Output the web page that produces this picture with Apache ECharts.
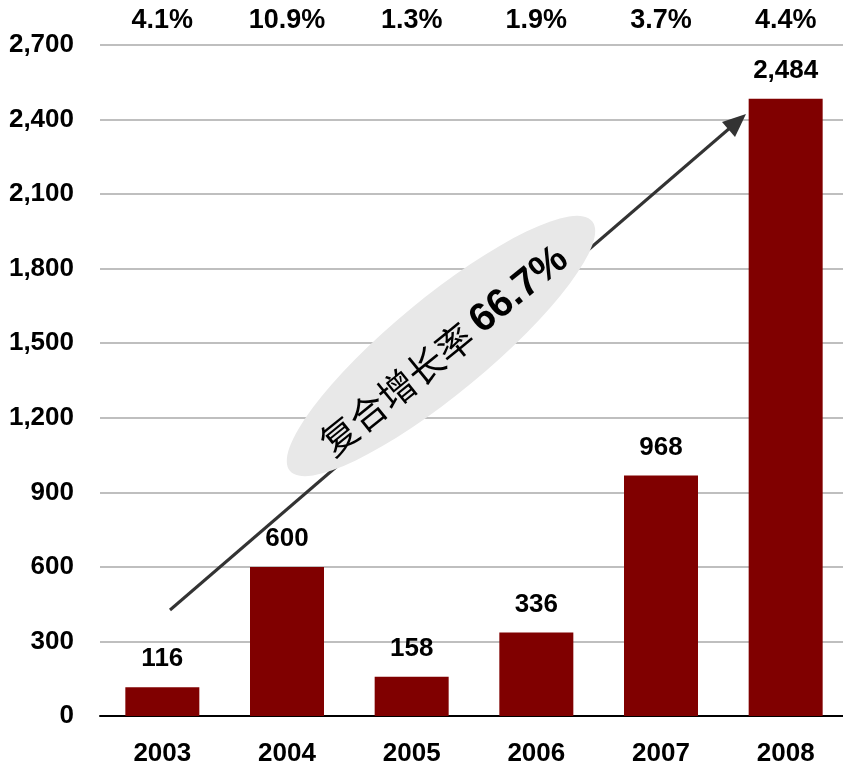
<!DOCTYPE html>
<html>
<head>
<meta charset="utf-8">
<script src="https://cdn.jsdelivr.net/npm/echarts@6/dist/echarts.min.js"></script>
<style>
  html, body { margin: 0; padding: 0; background: #fff; overflow: hidden; }
  #chart { width: 848px; height: 769px; }
</style>
</head>
<body>
<div id="chart"></div>
<script>
// 年份
var years = ['2003', '2004', '2005', '2006', '2007', '2008']
// 数值
var values = [116, 600, 158, 336, 968, 2484]
// 顶部百分比
var shares = ['4.1%', '10.9%', '1.3%', '1.9%', '3.7%', '4.4%']
var cagrText = '66.7%'

var chart = echarts.init(document.getElementById('chart'))
var numFont = '"Liberation Sans", Arial, sans-serif'

chart.setOption({
  animation: false,
  grid: {
    top: 45,
    left: 100,
    right: 0,
    bottom: 53
  },
  xAxis: [{
    type: 'category',
    data: years,
    axisLine: { lineStyle: { color: '#000', width: 2 } },
    axisTick: { show: false },
    axisLabel: {
      margin: 25,
      color: '#000',
      fontSize: 26,
      fontWeight: 'bold',
      fontFamily: numFont
    }
  }, {
    type: 'category',
    position: 'top',
    data: shares,
    axisLine: { show: false },
    axisTick: { show: false },
    axisLabel: {
      margin: 11,
      color: '#000',
      fontSize: 27,
      fontWeight: 'bold',
      fontFamily: numFont
    }
  }],
  yAxis: {
    type: 'value',
    min: 0,
    max: 2700,
    interval: 300,
    axisLine: { show: false },
    axisTick: { show: false },
    splitLine: { lineStyle: { color: '#bfbfbf', width: 2 } },
    axisLabel: {
      margin: 26,
      color: '#000',
      fontSize: 26,
      fontWeight: 'bold',
      fontFamily: numFont,
      formatter: function (v) { return v.toLocaleString('en-US') }
    }
  },
  series: [{
    type: 'bar',
    data: values,
    barWidth: 74,
    itemStyle: { color: '#800000' },
    label: {
      show: true,
      position: 'top',
      distance: 15,
      color: '#000',
      fontSize: 26,
      fontWeight: 'bold',
      fontFamily: numFont,
      formatter: function (p) { return p.value.toLocaleString('en-US') }
    }
  }],
  graphic: [{
    type: 'line',
    shape: { x1: 170, y1: 610, x2: 738, y2: 121 },
    style: { stroke: '#333', lineWidth: 3 },
    z: 100
  }, {
    type: 'polygon',
    shape: { points: [[746, 114], [722, 122], [735, 137]] },
    style: { fill: '#333' },
    z: 100
  }, {
    type: 'circle',
    x: 441,
    y: 346,
    rotation: 0.69,
    scaleX: 1.96,
    scaleY: 0.48,
    shape: { cx: 0, cy: 0, r: 100 },
    style: { fill: '#e8e8e8' },
    z: 110
  }, {
    type: 'text',
    x: 444,
    y: 351,
    rotation: 0.68,
    z: 120,
    style: {
      text: '{a|复合增长率 }{b|' + cagrText + '}',
      align: 'center',
      verticalAlign: 'middle',
      rich: {
        a: { fontSize: 37, color: '#000', fontFamily: '"Noto Sans CJK SC", sans-serif' },
        b: { fontSize: 40, color: '#000', fontWeight: 'bold', fontFamily: numFont }
      }
    }
  }]
})
</script>
</body>
</html>
